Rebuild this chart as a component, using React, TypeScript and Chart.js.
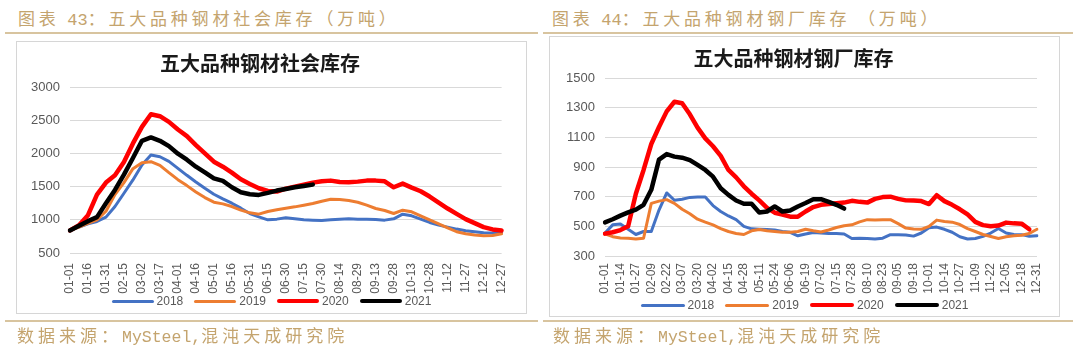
import React, { useEffect, useRef } from "react";
import { Chart, registerables } from "chart.js";

Chart.register(...registerables);

// ---------- Data: 五大品种钢材社会库存 (left) ----------
const socialTickLabels = [
  "01-01", "01-16", "01-31", "02-15", "03-02", "03-17", "04-01", "04-16", "05-01",
  "05-16", "05-31", "06-15", "06-30", "07-15", "07-30", "08-14", "08-29", "09-13",
  "09-28", "10-13", "10-28", "11-12", "11-27", "12-12", "12-27",
];
const social2018 = [
  850, 890, 940, 975, 1040, 1200, 1400, 1600, 1825, 1975, 1950, 1880, 1775, 1670, 1570, 1475,
  1385, 1315, 1250, 1175, 1095, 1045, 1000, 1010, 1030, 1015, 1000, 995, 990, 1000, 1010, 1015,
  1010, 1010, 1005, 995, 1015, 1085, 1060, 1010, 960, 920, 890, 860, 835, 820, 805, 800, 810,
];
const social2019 = [
  840, 890, 945, 1000, 1130, 1380, 1560, 1770, 1860, 1875, 1820, 1710, 1605, 1515, 1420, 1335,
  1265, 1240, 1200, 1145, 1105, 1085, 1125, 1150, 1175, 1195, 1220, 1245, 1280, 1310, 1305, 1290,
  1265, 1220, 1170, 1140, 1095, 1145, 1120, 1060, 1000, 940, 880, 820, 790, 770, 760, 765, 790,
];
const social2020 = [
  840, 918, 1070, 1380, 1560, 1670, 1870, 2150, 2400, 2590, 2560, 2475, 2360, 2260, 2125, 2000,
  1875, 1800, 1710, 1610, 1540, 1475, 1435, 1425, 1470, 1500, 1530, 1560, 1580, 1590, 1570, 1565,
  1575, 1590, 1590, 1580, 1490, 1545, 1485, 1430, 1350, 1260, 1170, 1090, 1010, 950, 890, 855, 840,
];
const social2021 = [
  840, 910, 980, 1040, 1250, 1450, 1680, 1930, 2190, 2240, 2190, 2110, 1995, 1905, 1800, 1715,
  1625, 1585, 1490, 1415, 1385, 1375, 1405, 1440, 1465, 1490, 1510, 1530,
  null, null, null, null, null, null, null, null, null, null, null, null, null, null, null, null,
  null, null, null, null, null,
];

// ---------- Data: 五大品种钢材钢厂库存 (right) ----------
const millTickLabels = [
  "01-01", "01-14", "01-27", "02-09", "02-22", "03-07", "03-20", "04-02", "04-15", "04-28",
  "05-11", "05-24", "06-06", "06-19", "07-02", "07-15", "07-28", "08-10", "08-23", "09-05",
  "09-18", "10-01", "10-14", "10-27", "11-09", "11-22", "12-05", "12-18", "12-31",
];
const mill2018 = [
  455, 510, 515, 480, 445, 465, 465, 610, 725, 676, 683, 695, 697, 697, 640, 600, 570, 545, 500,
  483, 480, 478, 475, 466, 460, 436, 448, 458, 455, 452, 451, 448, 418, 420, 418, 414, 420, 444,
  444, 442, 434, 455, 490, 495, 480, 460, 430, 415, 418, 432, 455, 485, 455, 445, 444, 433, 437,
];
const mill2019 = [
  450, 430, 422, 420, 415, 420, 655, 670, 680, 655, 615, 585, 548, 528, 510, 485, 465, 452, 445,
  470, 478, 470, 465, 460, 460, 465, 480, 470, 462, 475, 492, 504, 510, 530, 545, 542, 545, 545,
  518, 488, 482, 480, 500, 542, 532, 528, 512, 485, 465, 445, 432, 418, 430, 436, 440, 452, 480,
];
const mill2020 = [
  451, 460, 475, 500, 720, 880, 1055, 1170, 1275, 1340, 1330, 1255, 1165, 1093, 1040, 975, 880,
  830, 770, 720, 675, 625, 592, 580, 565, 565, 600, 630, 645, 650, 655, 660, 672, 665, 660, 685,
  697, 700, 685, 675, 674, 670, 650, 710, 670, 645, 615, 580, 530, 508, 500, 505, 525, 520, 518,
  480, null,
];
const mill2021 = [
  527, 548, 572, 594, 612, 645, 746, 950, 987, 970, 963, 947, 914, 880, 835, 757, 712, 674, 652,
  652, 594, 600, 634, 600, 607, 634, 657, 683, 683, 665, 645, 620,
  null, null, null, null, null, null, null, null, null, null, null, null, null, null, null, null,
  null, null, null, null, null, null, null, null, null,
];

const seriesNames = ["2018", "2019", "2020", "2021"];
const seriesColors = ["#4472C4", "#ED7D31", "#FF0000", "#000000"];
const seriesWidths = [3, 3, 4.5, 4.5];
const legendHeights = [3, 3, 4, 4];

const CJK = '"Noto Sans CJK SC", sans-serif';
const LATIN = '"Liberation Sans", Arial, sans-serif';
const MONO = '"Liberation Mono", monospace';
const TAN = "#c4a46e";
const RULE = "#d8c49f";
const AXIS_TEXT = "#595959";

function withBlanks(ticks: string[]): string[] {
  const out: string[] = [];
  ticks.forEach((t, i) => {
    out.push(t);
    if (i < ticks.length - 1) out.push("");
  });
  return out;
}

type PanelProps = {
  title: string;
  tickLabels: string[];
  data: (number | null)[][];
  yMin: number;
  yMax: number;
  yStep: number;
  left: number;
  top: number;
  width: number;
  height: number;
  yAxisWidth: number;
  padRight: number;
  titlePadBottom: number;
  xAxisHeight: number;
  xTickPad: number;
};

function LinePanel(p: PanelProps) {
  const ref = useRef<HTMLCanvasElement>(null);
  useEffect(() => {
    if (!ref.current) return;
    const chart = new Chart(ref.current, {
      type: "line",
      data: {
        labels: withBlanks(p.tickLabels),
        datasets: p.data.map((d, i) => ({
          label: seriesNames[i],
          data: d,
          borderColor: seriesColors[i],
          backgroundColor: seriesColors[i],
          borderWidth: seriesWidths[i],
          pointRadius: 0,
          tension: 0,
          spanGaps: false,
          order: p.data.length - i,
          borderJoinStyle: "round" as const,
          borderCapStyle: "round" as const,
        })),
      },
      options: {
        animation: false,
        responsive: false,
        maintainAspectRatio: false,
        layout: { padding: { left: 0, right: p.padRight, top: 0, bottom: 0 } },
        plugins: {
          title: {
            display: true,
            text: p.title,
            color: "#1a1a1a",
            font: { family: CJK, size: 20, weight: "bold" },
            padding: { top: 9, bottom: p.titlePadBottom },
          },
          legend: { display: false },
          tooltip: { enabled: false },
        },
        scales: {
          x: {
            type: "category",
            offset: false,
            grid: { display: false, drawTicks: false },
            border: { display: false },
            ticks: {
              autoSkip: false,
              minRotation: 90,
              maxRotation: 90,
              padding: p.xTickPad,
              color: AXIS_TEXT,
              font: { family: LATIN, size: 12 },
            },
            afterFit: (s: any) => {
              s.height = p.xAxisHeight;
            },
          },
          y: {
            min: p.yMin,
            max: p.yMax,
            grid: { color: "#d9d9d9", lineWidth: 1, drawTicks: false },
            border: { display: false },
            ticks: {
              stepSize: p.yStep,
              padding: 10,
              color: AXIS_TEXT,
              font: { family: LATIN, size: 13 },
              callback: (v: any) => String(v),
            },
            afterFit: (s: any) => {
              s.width = p.yAxisWidth;
            },
          },
        },
      } as any,
    });
    return () => chart.destroy();
  }, []);
  return (
    <canvas
      ref={ref}
      width={p.width}
      height={p.height}
      style={{ position: "absolute", left: p.left, top: p.top, width: p.width, height: p.height }}
    />
  );
}

function Legend({ left, width, centerY, barWidth }: { left: number; width: number; centerY: number; barWidth: number }) {
  return (
    <div
      style={{
        position: "absolute",
        left,
        width,
        top: centerY - 8,
        height: 16,
        display: "flex",
        justifyContent: "center",
        alignItems: "center",
        gap: 11,
        fontFamily: LATIN,
        fontSize: 12,
        color: AXIS_TEXT,
        lineHeight: "16px",
      }}
    >
      {seriesNames.map((n, i) => (
        <div key={n} style={{ display: "flex", alignItems: "center" }}>
          <div
            style={{
              width: barWidth,
              height: legendHeights[i],
              background: seriesColors[i],
              borderRadius: 2,
              marginRight: 3,
            }}
          />
          <span>{n}</span>
        </div>
      ))}
    </div>
  );
}

function Caption({ left, num, text }: { left: number; num: string; text: string }) {
  return (
    <div
      style={{
        position: "absolute",
        left,
        top: 6,
        height: 24,
        lineHeight: "24px",
        color: TAN,
        fontFamily: CJK,
        fontSize: 17,
        letterSpacing: 3.8,
        whiteSpace: "nowrap",
      }}
    >
      图表 <span style={{ fontFamily: MONO, fontSize: 17, letterSpacing: 0 }}>{num}</span>
      {text}
    </div>
  );
}

function Source({ left }: { left: number }) {
  return (
    <div
      style={{
        position: "absolute",
        left,
        top: 323,
        height: 24,
        lineHeight: "24px",
        color: TAN,
        fontFamily: CJK,
        fontSize: 17,
        letterSpacing: 4,
        whiteSpace: "nowrap",
      }}
    >
      数据来源：
      <span style={{ fontFamily: MONO, fontSize: 16.5, letterSpacing: 0 }}>MySteel,</span>
      混沌天成研究院
    </div>
  );
}

function Rule({ left, top, width, h }: { left: number; top: number; width: number; h: number }) {
  return <div style={{ position: "absolute", left, top, width, height: h, background: RULE }} />;
}

function Box({ left, top, width, height }: { left: number; top: number; width: number; height: number }) {
  return (
    <div
      style={{
        position: "absolute",
        left,
        top,
        width,
        height,
        boxSizing: "border-box",
        border: "1px solid #d6d6d6",
        background: "#ffffff",
      }}
    />
  );
}

export default function App() {
  return (
    <div
      style={{
        position: "absolute",
        left: 0,
        top: 0,
        width: 1080,
        height: 352,
        background: "#ffffff",
        overflow: "hidden",
      }}
    >
      <Caption left={18} num="43" text="：五大品种钢材社会库存（万吨）" />
      <Caption left={552} num="44" text="：五大品种钢材钢厂库存 （万吨）" />
      <Rule left={5} top={32} width={533} h={2} />
      <Rule left={543} top={32} width={530} h={2} />

      <Box left={16} top={41} width={511} height={273} />
      <Box left={549} top={36} width={511} height={281} />

      <LinePanel
        title="五大品种钢材社会库存"
        tickLabels={socialTickLabels}
        data={[social2018, social2019, social2020, social2021]}
        yMin={500}
        yMax={3000}
        yStep={500}
        left={17}
        top={42}
        width={509}
        height={255}
        yAxisWidth={53}
        padRight={23}
        titlePadBottom={12}
        xAxisHeight={44}
        xTickPad={10}
      />
      <Legend left={16} width={511} centerY={301} barWidth={42} />

      <LinePanel
        title="五大品种钢材钢厂库存"
        tickLabels={millTickLabels}
        data={[mill2018, mill2019, mill2020, mill2021]}
        yMin={300}
        yMax={1500}
        yStep={200}
        left={550}
        top={37}
        width={509}
        height={263}
        yAxisWidth={55}
        padRight={22}
        titlePadBottom={8}
        xAxisHeight={44}
        xTickPad={7}
      />
      <Legend left={549} width={511} centerY={305} barWidth={44} />

      <Rule left={5} top={320} width={533} h={2} />
      <Rule left={543} top={320} width={530} h={2} />
      <Source left={17} />
      <Source left={553} />
    </div>
  );
}
